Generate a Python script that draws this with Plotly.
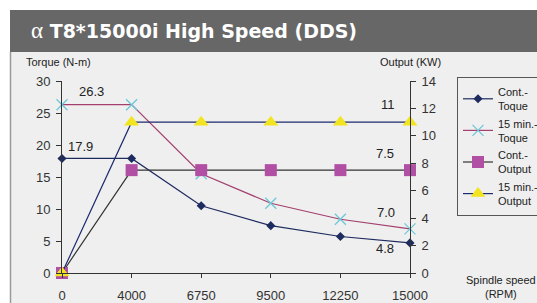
import plotly.graph_objects as go

speeds = ["0", "4000", "6750", "9500", "12250", "15000"]
cont_torque = [17.9, 17.9, 10.5, 7.4, 5.7, 4.7]
min15_torque = [26.3, 26.3, 15.5, 10.9, 8.4, 6.9]
cont_output = [0, 7.5, 7.5, 7.5, 7.5, 7.5]
min15_output = [0, 11, 11, 11, 11, 11]

label_texts = ["26.3", "17.9", "11", "7.5", "7.0", "4.8"]
label_x = [0.42, 0.27, 4.68, 4.64, 4.66, 4.64]
label_y = [28.3, 19.8, 26.4, 18.7, 9.5, 3.9]

xi = list(range(len(speeds)))
W, H = 537, 303
L, R, T, B = 62, 410, 81, 273

def px(x):
    return (x - L) / (R - L)

def py(y):
    return (B - y) / (B - T)

fig = go.Figure()
fig.add_trace(go.Scatter(x=xi, y=cont_torque, name="Cont.-<br>Toque", mode="lines+markers",
                         line=dict(color="#1e2b5e", width=1.2),
                         marker=dict(symbol="diamond", size=7, color="#1e2b5e"), cliponaxis=False))
fig.add_trace(go.Scatter(x=xi, y=min15_torque, name="15 min.-<br>Toque", mode="lines+markers",
                         line=dict(color="#a3406e", width=1.2),
                         marker=dict(symbol="x-thin", size=11, line=dict(color="#6cc8d8", width=1.3)),
                         cliponaxis=False))
fig.add_trace(go.Scatter(x=xi, y=cont_output, name="Cont.-<br>Output", mode="lines+markers", yaxis="y2",
                         line=dict(color="#333333", width=1.2),
                         marker=dict(symbol="square", size=12, color="#b04fa3"), cliponaxis=False))
fig.add_trace(go.Scatter(x=xi, y=min15_output, name="15 min.-<br>Output", mode="lines+markers", yaxis="y2",
                         line=dict(color="#1e2b6e", width=1.2),
                         marker=dict(symbol="triangle-up", size=13, color="#f2e41e"), cliponaxis=False))

axfont = dict(family="Liberation Sans, Arial, sans-serif", size=13, color="#333333")
valfont = dict(family="Liberation Sans, Arial, sans-serif", size=13, color="#222222")

shapes = [
    dict(type="rect", xref="paper", yref="paper", x0=px(10), x1=px(W + 5), y0=py(H + 5), y1=py(52),
         fillcolor="#efefef", line=dict(width=0), layer="below"),
    dict(type="rect", xref="paper", yref="paper", x0=px(10), x1=px(W + 5), y0=py(52), y1=py(10),
         fillcolor="#676767", line=dict(width=0), layer="below"),
    dict(type="line", xref="paper", yref="paper", x0=px(10.5), x1=px(10.5), y0=py(52), y1=py(H + 5),
         line=dict(color="#9a9a9a", width=1.5), layer="below"),
]

annotations = []
for t, x, y in zip(label_texts, label_x, label_y):
    annotations.append(dict(x=x, y=y, xref="x", yref="y", text=t, showarrow=False, font=valfont))

small = dict(family="Liberation Sans, Arial, sans-serif", size=11, color="#222222")
annotations += [
    dict(x=px(29), y=py(31), xref="paper", yref="paper", xanchor="left", yanchor="middle", showarrow=False,
         text="<span style='font-family:Liberation Serif;font-weight:normal;font-size:23px'>α</span><b> T8*15000i High Speed (DDS)</b>",
         font=dict(family="DejaVu Sans, sans-serif", size=19, color="white")),
    dict(x=px(24), y=py(62), xref="paper", yref="paper", xanchor="left", yanchor="middle", showarrow=False,
         text="Torque (N-m)", font=small),
    dict(x=px(378), y=py(62), xref="paper", yref="paper", xanchor="left", yanchor="middle", showarrow=False,
         text="Output (KW)", font=small),
    dict(x=px(501), y=py(287), xref="paper", yref="paper", xanchor="center", yanchor="middle", showarrow=False,
         text="Spindle speed<br>(RPM)", font=small),
]

fig.update_layout(
    width=W, height=H,
    margin=dict(l=L, r=W - R, t=T, b=H - B, pad=0, autoexpand=False),
    paper_bgcolor="#ffffff", plot_bgcolor="#efefef",
    showlegend=True,
    legend=dict(x=px(457), y=py(77), xanchor="left", yanchor="top",
                bgcolor="#efefef", bordercolor="#555555", borderwidth=1,
                font=dict(family="Liberation Sans, Arial, sans-serif", size=11, color="#222222"),
                itemwidth=30, tracegroupgap=0),
    xaxis=dict(range=[0, 5], tickmode="array", tickvals=xi, ticktext=speeds, showgrid=False,
               zeroline=False, showline=True, linecolor="#333333", linewidth=1,
               ticks="outside", ticklen=4, tickcolor="#333333", tickfont=axfont, ticklabelstandoff=6),
    yaxis=dict(range=[0, 30], tickvals=[0, 5, 10, 15, 20, 25, 30], showgrid=False, zeroline=False,
               showline=True, linecolor="#333333", linewidth=1, ticks="outside", ticklen=5,
               tickcolor="#333333", tickfont=axfont, ticklabelstandoff=3),
    yaxis2=dict(range=[0, 14], tickvals=[0, 2, 4, 6, 8, 10, 12, 14], overlaying="y", side="right",
                showgrid=False, zeroline=False, showline=True, linecolor="#333333", linewidth=1,
                ticks="outside", ticklen=5, tickcolor="#333333", tickfont=axfont, ticklabelstandoff=3),
    shapes=shapes,
    annotations=annotations,
)

fig.write_html("out.html", config={"displayModeBar": False},
               post_script="document.body.style.margin='0';document.body.style.overflow='hidden';")
